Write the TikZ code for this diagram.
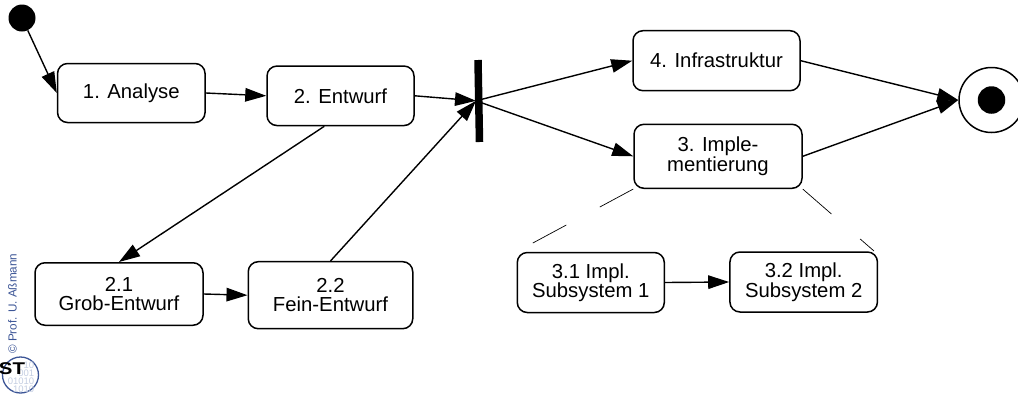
\documentclass[tikz,border=0pt]{standalone}
\usepackage{fontspec}
\setmainfont{Liberation Sans}
\usetikzlibrary{arrows.meta}
\definecolor{logoblue}{RGB}{60,85,150}
\definecolor{logolight}{RGB}{195,205,225}
\tikzset{
  box/.style={draw,line width=1.5pt,rounded corners=10pt,align=center,inner sep=0pt,font=\fontsize{20.3}{19.5}\selectfont},
  conn/.style={line width=1.4pt,-{Triangle[length=21pt,width=13.5pt]}},
  refine/.style={line width=0.7pt,dash pattern=on 38pt off 38pt},
  logotext/.style={inner sep=0pt,text=logolight,font=\fontsize{9.5}{8}\selectfont}
}
\begin{document}
\begin{tikzpicture}[x=1pt,y=-1pt]
\useasboundingbox[clip] (0,0) rectangle (1018,394);
\node[box,minimum width=147.5pt,minimum height=59pt] (a) at (131.3,93) {1. Analyse};
\node[box,minimum width=147pt,minimum height=59.5pt] (b) at (340.5,95.8) {2. Entwurf};
\node[box,minimum width=167pt,minimum height=60pt] (c) at (716.5,60.7) {4. Infrastruktur};
\node[box,minimum width=168pt,minimum height=64pt] (d) at (718,156.3) {3. Imple-\\mentierung};
\node[box,minimum width=168pt,minimum height=62.5pt] (e) at (119,294) {2.1\\Grob-Entwurf};
\node[box,minimum width=164.5pt,minimum height=67pt] (f) at (330.5,295.2) {2.2\\Fein-Entwurf};
\node[box,minimum width=147pt,minimum height=60pt] (g) at (590.8,282.5) {3.1 Impl.\\Subsystem 1};
\node[box,minimum width=147.5pt,minimum height=60pt] (h) at (803.7,282) {3.2 Impl.\\Subsystem 2};
\node[circle,fill=black,minimum size=27pt,inner sep=0pt] (start) at (22,18) {};
\node[circle,draw,line width=1.5pt,minimum size=65pt,inner sep=0pt] (stop) at (991.5,100) {};
\node[circle,fill=black,minimum size=27.5pt,inner sep=0pt] (stopdot) at (991.5,100) {};
\coordinate (bartop) at (478,60);
\coordinate (barbot) at (479.5,142);
\coordinate (fork) at (476,100.8);
\draw[line width=7.5pt] (bartop) -- (barbot);
\draw[conn] (start) -- (a.west);
\draw[conn] (a.east) -- (b.west);
\draw[conn] (b.east) -- (fork);
\draw[conn] (fork) -- (c.west);
\draw[conn] (fork) -- (d.west);
\draw[conn] (b.-118) -- (e.north);
\draw[conn] (e.east) -- (f.west);
\draw[conn] (f.north) -- (fork);
\draw[conn] (c.east) -- (stop.west);
\draw[conn] (d.east) -- (stop.west);
\draw[conn] (g.east) -- (h.west);
\coordinate (lend) at (531,244);
\coordinate (rend) at (874,251);
\draw[refine] (d.south west) -- (lend);
\draw[refine] (d.south east) -- (rend);
\node[rotate=90,anchor=base west,inner sep=0pt,text=logoblue,font=\fontsize{11.7}{13}\selectfont] (copy) at (16.5,354) {© Prof. U. Aßmann};
\node[circle,draw=logoblue,line width=1.3pt,minimum size=36pt,inner sep=0pt] (ring) at (20.5,375) {};
\node[logotext,align=right] (bits) at (21,377) {10\hspace{1pt}\\001\\01010\\1010\hspace{5pt}};
\node[inner sep=0pt,xscale=1.2,font=\bfseries\fontsize{17}{20}\selectfont] (st) at (12,369) {ST};
\end{tikzpicture}
\end{document}
